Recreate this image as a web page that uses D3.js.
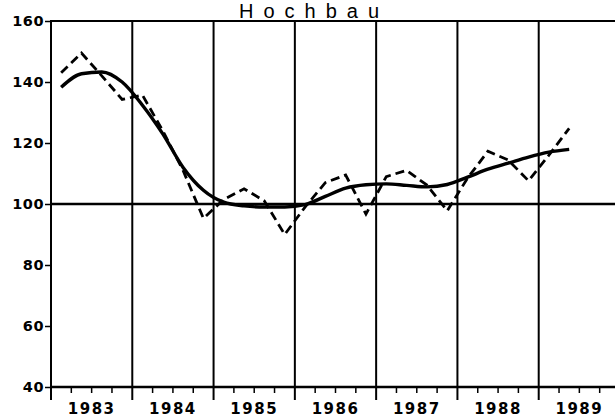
<!DOCTYPE html>
<html><head><meta charset="utf-8">
<script src="https://cdn.jsdelivr.net/npm/d3@7"></script>
<style>
html,body{margin:0;padding:0;background:#fff;}
svg{display:block;}
</style></head>
<body>
<script>
const title = "Hochbau";
const years = [1983, 1984, 1985, 1986, 1987, 1988, 1989];
const yTicks = [40, 60, 80, 100, 120, 140, 160];
// quarterly values, 1983 Q1 .. 1989 Q2
const quarterly = [143, 149.5, 142, 134.3, 135.7, 124, 111, 95.3, 101.5, 105, 101, 90,
  99, 107, 109.5, 96.7, 109, 111, 106.2, 97.8, 108.5, 117.3, 114.4, 107.6, 116, 124.8];
const trend = [138.3, 142.7, 143.3, 140, 132.4, 123, 112, 104.5, 100.6, 99.4, 99, 99,
  99.8, 102.5, 105.2, 106.3, 106.6, 106.1, 105.6, 106.4, 108.8, 111.4, 113.4, 115.4, 117, 117.9];

const W = 615, H = 418;
const svg = d3.select("body").append("svg").attr("width", W).attr("height", H);

const x = d3.scaleLinear().domain([1983, 1990]).range([51, 620]);
const y = d3.scaleLinear().domain([40, 160]).range([387, 21]);
const qx = i => x(1983 + (i + 0.5) / 4);

// title
svg.append("text").attr("x", 314).attr("y", 18).attr("text-anchor", "middle")
  .attr("font-family", "Liberation Sans, Arial, sans-serif").attr("font-size", 20)
  .attr("letter-spacing", "10px").attr("fill", "#000").text(title);

// top border
svg.append("line").attr("x1", x(1983)).attr("x2", W).attr("y1", y(160)).attr("y2", y(160))
  .attr("stroke", "#000").attr("stroke-width", 2);

// vertical year lines
const boundaries = d3.range(1984, 1990);
svg.selectAll(".vl").data(boundaries).enter().append("line")
  .attr("x1", d => x(d)).attr("x2", d => x(d)).attr("y1", y(160)).attr("y2", 400)
  .attr("stroke", "#000").attr("stroke-width", 2);

// left axis
const yAxis = d3.axisLeft(y).tickValues(yTicks).tickSize(6).tickPadding(1).tickFormat(d3.format("d"));
const ga = svg.append("g").attr("transform", `translate(${x(1983)},0)`).call(yAxis);
ga.select(".domain").remove();
ga.selectAll(".tick line").attr("stroke", "#000").attr("stroke-width", 1.5);
ga.selectAll(".tick text").attr("font-family", "DejaVu Sans, sans-serif").attr("font-weight", "bold")
  .attr("font-size", 14.5).attr("letter-spacing", "0.5px").attr("fill", "#000");
svg.append("line").attr("x1", x(1983)).attr("x2", x(1983)).attr("y1", y(160) - 1).attr("y2", 400)
  .attr("stroke", "#000").attr("stroke-width", 2);

// bottom axis at 40
svg.append("line").attr("x1", x(1983)).attr("x2", W).attr("y1", y(40)).attr("y2", y(40))
  .attr("stroke", "#000").attr("stroke-width", 2.5);
const quarterTicks = d3.range(0, 28).filter(i => i % 4 !== 0).map(i => 1983 + i / 4);
svg.selectAll(".qt").data(quarterTicks).enter().append("line")
  .attr("x1", d => x(d)).attr("x2", d => x(d)).attr("y1", y(40)).attr("y2", y(40) + 6)
  .attr("stroke", "#000").attr("stroke-width", 1.5);

// year labels
svg.selectAll(".yl").data(years).enter().append("text")
  .attr("x", d => x(d + 0.5)).attr("y", 414).attr("text-anchor", "middle")
  .attr("font-family", "DejaVu Sans, sans-serif").attr("font-weight", "bold")
  .attr("font-size", 15).attr("letter-spacing", "1.5px").attr("fill", "#000").text(d => d);

// 100 line
svg.append("line").attr("x1", x(1983)).attr("x2", W).attr("y1", y(100)).attr("y2", y(100))
  .attr("stroke", "#000").attr("stroke-width", 2.5);

const lineGen = d3.line().x((d, i) => qx(i)).y(d => y(d));

svg.append("path").datum(quarterly).attr("d", lineGen).attr("fill", "none")
  .attr("stroke", "#000").attr("stroke-width", 2.8).attr("stroke-dasharray", "9,5");
svg.append("path").datum(trend).attr("d", lineGen.curve(d3.curveMonotoneX)).attr("fill", "none")
  .attr("stroke", "#000").attr("stroke-width", 3.4).attr("stroke-linejoin", "round");
</script>
</body></html>
